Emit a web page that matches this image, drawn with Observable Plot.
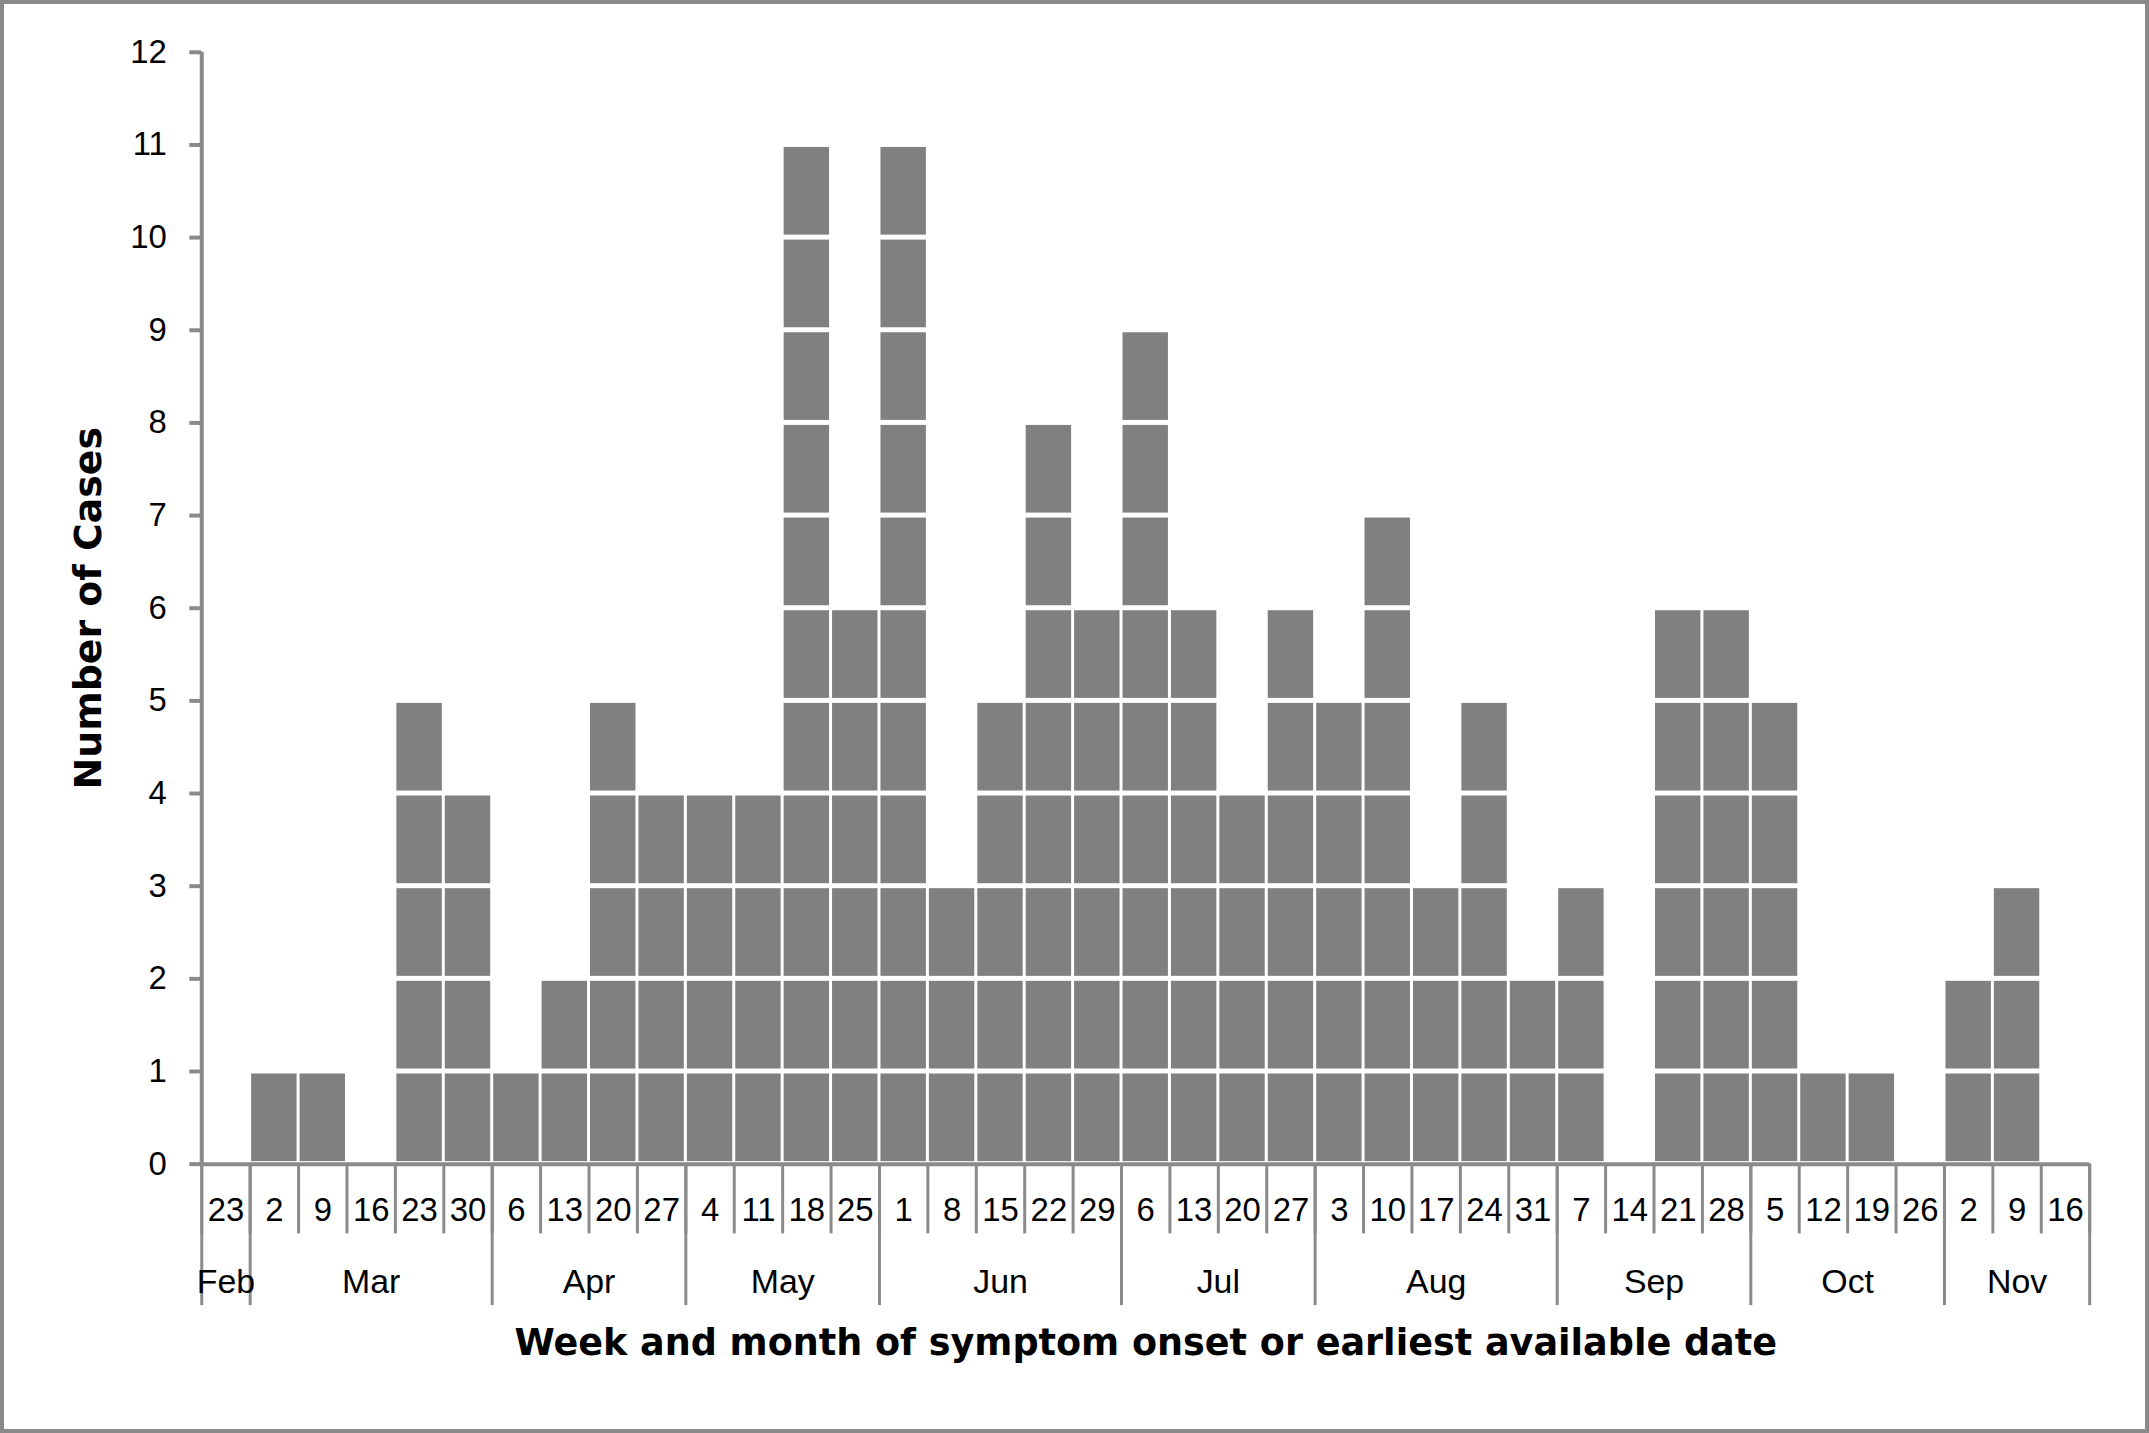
<!DOCTYPE html>
<html>
<head>
<meta charset="utf-8">
<script src="https://cdn.jsdelivr.net/npm/d3@7"></script>
<script src="https://cdn.jsdelivr.net/npm/@observablehq/plot@0.6"></script>
<style>
  html, body { margin: 0; padding: 0; background: #fff; }
  #fig { width: 2149px; height: 1433px; box-sizing: border-box; border: 4px solid #8a8a8a; position: relative; overflow: hidden; background: #fff; }
  #fig svg { position: absolute; left: -4px; top: -4px; overflow: visible; }
</style>
</head>
<body>
<div id="fig"></div>
<script>
const weeks = ["23","2","9","16","23","30","6","13","20","27","4","11","18","25","1","8","15","22","29","6","13","20","27","3","10","17","24","31","7","14","21","28","5","12","19","26","2","9","16"];
const cases = [0,1,1,0,5,4,1,2,5,4,4,4,11,6,11,3,5,8,6,9,6,4,6,5,7,3,5,2,3,0,6,6,5,1,1,0,2,3,0];
const months = ["Feb","Mar","Apr","May","Jun","Jul","Aug","Sep","Oct","Nov"];
const monthWeeks = [1,5,4,4,5,4,5,4,4,3];
const yTicks = [0,1,2,3,4,5,6,7,8,9,10,11,12];
const yTitle = "Number of Cases";
const xTitle = "Week and month of symptom onset or earliest available date";

// derived tables
const units = cases.flatMap((c, i) => d3.range(c).map(k => ({x1: i, x2: i + 1, y1: k, y2: k + 1})));
const weekBounds = d3.range(weeks.length + 1);
const weekCenters = weeks.map((w, i) => i + 0.5);
const monthStarts = [0, ...d3.cumsum(monthWeeks)];
const monthCenters = months.map((m, i) => (monthStarts[i] + monthStarts[i + 1]) / 2);

const gray = "#8a8a8a";
const sans = "'Liberation Sans', Arial, sans-serif";
const bold = "'DejaVu Sans', 'Liberation Sans', sans-serif";

const chart = Plot.plot({
  width: 2149,
  height: 1433,
  marginLeft: 202,
  marginRight: 52,
  marginTop: 52,
  marginBottom: 265,
  style: {fontFamily: sans, background: "white", color: "black"},
  x: {type: "linear", domain: [0, weeks.length], axis: null},
  y: {domain: [0, 12], axis: null},
  marks: [
    Plot.rect(units, {x1: "x1", x2: "x2", y1: "y1", y2: "y2", fill: "#808080",
      insetLeft: 1.5, insetRight: 1.5, insetTop: 2.5, insetBottom: 2.5}),
    // y axis
    Plot.axisY({ticks: yTicks, tickSize: 12, tickPadding: 23, fontSize: 33, stroke: gray, strokeWidth: 4, tickFormat: d => String(d), label: null}),
    Plot.ruleX([0], {stroke: gray, strokeWidth: 4}),
    Plot.ruleY([0], {stroke: gray, strokeWidth: 4}),
    // week separators
    Plot.axisX({ticks: weekBounds, tickSize: 70, tickFormat: () => "", stroke: gray, strokeWidth: 3, label: null}),
    // month separators
    Plot.axisX({ticks: monthStarts, tickSize: 142, tickFormat: () => "", stroke: gray, strokeWidth: 3, label: null}),
    // week labels
    Plot.axisX({ticks: weekCenters, tickSize: 0, tickPadding: 34, fontSize: 33,
      tickFormat: (d) => weeks[Math.round(d - 0.5)], label: null}),
    // month labels
    Plot.axisX({ticks: monthCenters, tickSize: 0, tickPadding: 105, fontSize: 34,
      tickFormat: (d) => months[monthCenters.indexOf(d)], label: null}),
    // titles
    Plot.text([xTitle], {frameAnchor: "bottom", textAnchor: "middle", dy: 180, fontSize: 36.7, fontWeight: "bold", fontFamily: bold, text: d => d, lineAnchor: "middle"}),
    Plot.text([yTitle], {frameAnchor: "left", textAnchor: "middle", dx: -113, rotate: -90, fontSize: 38, fontWeight: "bold", fontFamily: bold, text: d => d, lineAnchor: "middle"})
  ]
});
document.getElementById("fig").appendChild(chart);
</script>
</body>
</html>
